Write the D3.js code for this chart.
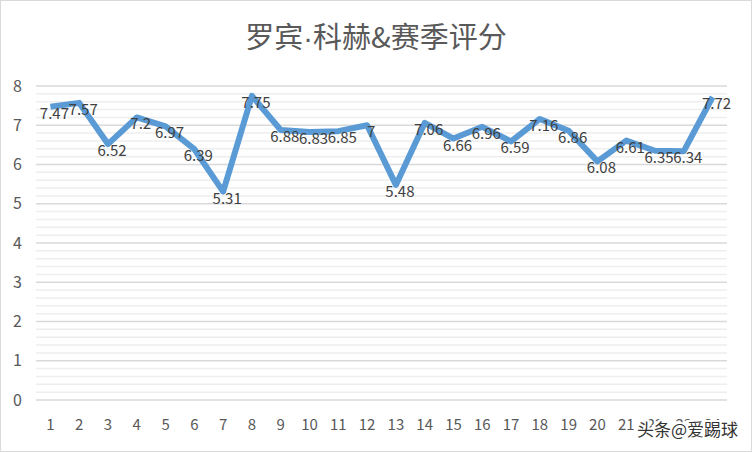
<!DOCTYPE html>
<html><head><meta charset="utf-8">
<script src="https://cdn.jsdelivr.net/npm/d3@7"></script>
<style>body{margin:0;background:#fff}</style>
</head><body>
<script>
const seasons = d3.range(1, 25);
const ratings = [7.47,7.57,6.52,7.2,6.97,6.39,5.31,7.75,6.88,6.83,6.85,7,5.48,7.06,6.66,6.96,6.59,7.16,6.86,6.08,6.61,6.35,6.34,7.72];
const yTicks = [0,1,2,3,4,5,6,7,8];

const width = 752, height = 452;
const margin = {top: 86, right: 25, bottom: 52, left: 36};

const svg = d3.select("body").append("svg")
  .attr("width", width).attr("height", height)
  .style("font-family", "'Noto Sans CJK SC', 'Liberation Sans', sans-serif");

svg.append("rect").attr("x", 0.5).attr("y", 0.5)
  .attr("width", width - 1).attr("height", height - 1)
  .attr("fill", "#fff").attr("stroke", "#d9d9d9");

const x = d3.scaleBand().domain(seasons).range([margin.left, width - margin.right]);
const y = d3.scaleLinear().domain([0, 8]).range([height - margin.bottom, margin.top]);

// minor gridlines every 0.2
svg.append("g").selectAll("line")
  .data(d3.range(0, 8.01, 0.2))
  .enter().append("line")
  .attr("x1", margin.left).attr("x2", width - margin.right)
  .attr("y1", d => y(d)).attr("y2", d => y(d))
  .attr("stroke", d => Math.abs(d - Math.round(d)) < 1e-6 ? "#d9d9d9" : "#eeeeee")
  .attr("stroke-width", 1.5);

svg.append("g").selectAll("text")
  .data(yTicks).enter().append("text")
  .attr("x", 22).attr("y", d => y(d)).attr("dy", "0.35em")
  .attr("text-anchor", "end").attr("font-size", 16).attr("fill", "#595959")
  .text(d => d);

svg.append("g").selectAll("text")
  .data(seasons).enter().append("text")
  .attr("x", d => x(d) + x.bandwidth() / 2).attr("y", 430)
  .attr("text-anchor", "middle").attr("font-size", 15).attr("fill", "#595959")
  .text(d => d);

const title = svg.append("text").attr("x", width / 2).attr("y", 48)
  .attr("text-anchor", "middle").attr("font-size", 29).attr("fill", "#595959");
title.append("tspan").text("罗宾");
title.append("tspan").style("font-family", "'Liberation Sans'").text("·");
title.append("tspan").text("科赫&赛季评分");

const line = d3.line()
  .x((d, i) => x(seasons[i]) + x.bandwidth() / 2)
  .y(d => y(d));

svg.append("path").datum(ratings)
  .attr("d", line).attr("fill", "none")
  .attr("stroke", "#5b9bd5").attr("stroke-width", 6)
  .attr("stroke-linejoin", "round");

svg.append("g").selectAll("text")
  .data(ratings).enter().append("text")
  .attr("x", (d, i) => x(seasons[i]) + x.bandwidth() / 2 + 4)
  .attr("y", d => y(d) + 12)
  .attr("text-anchor", "middle").attr("font-size", 15).attr("fill", "#404040")
  .text(d => d);

svg.append("text").attr("x", 738).attr("y", 436)
  .attr("text-anchor", "end").attr("font-size", 17).attr("fill", "#333")
  .attr("stroke", "#fff").attr("stroke-width", 4).attr("paint-order", "stroke")
  .text("头条@爱踢球");
</script>
</body></html>
